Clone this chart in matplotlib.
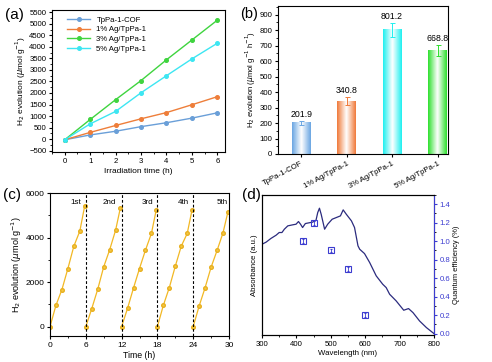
import numpy as np
import matplotlib
matplotlib.use("Agg")
import matplotlib.pyplot as plt
from matplotlib.ticker import MultipleLocator, FormatStrFormatter
from matplotlib.colors import LinearSegmentedColormap

# ---------------- data ----------------
# (a)
time_a = [0, 1, 2, 3, 4, 5, 6]
series_names = ["TpPa-1-COF", "1% Ag/TpPa-1", "3% Ag/TpPa-1", "5% Ag/TpPa-1"]
h2_tppa = [-30, 180, 340, 540, 710, 910, 1140]
h2_1pct = [-30, 290, 590, 880, 1150, 1490, 1840]
h2_3pct = [-30, 850, 1710, 2540, 3440, 4300, 5160]
h2_5pct = [-30, 660, 1200, 2010, 2750, 3480, 4160]
colors_a = ["#6a9fd8", "#ee7e3a", "#3fd43f", "#3de6f2"]

# (b)
bar_labels = ["TpPa-1-COF", "1% Ag/TpPa-1", "3% Ag/TpPa-1", "5% Ag/TpPa-1"]
bar_values = [201.9, 340.8, 801.2, 668.8]
bar_errors = [12, 25, 45, 35]
bar_colors = ["#6aa6e2", "#f07a3a", "#1ff0f0", "#2fe02f"]

# (c)
cycle_offsets = [0, 1, 2, 3, 4, 5, 5.8]
cycle_starts = [0, 6, 12, 18, 24]
cycle_values = [
    [0, 960, 1665, 2610, 3615, 4290, 5400],
    [0, 810, 1680, 2685, 3450, 4335, 5340],
    [0, 825, 1740, 2610, 3435, 4185, 5235],
    [0, 960, 1755, 2715, 3615, 4185, 5235],
    [0, 930, 1755, 2670, 3420, 4215, 5130],
]
cycle_names = ["1st", "2nd", "3rd", "4th", "5th"]
cycle_label_x = [4.4, 10.0, 16.3, 22.3, 28.8]

# (d)
wl = [300, 312, 326, 341, 350, 358, 365, 375, 389, 399, 406, 412, 418, 426,
      438, 447, 457, 462, 467, 472, 482, 491, 504, 516, 528, 536, 545, 560,
      569, 579, 584, 598, 613, 632, 651, 661, 671, 690, 712, 726, 739, 758,
      778, 800]
absorb = [0.967, 0.99, 1.03, 1.065, 1.094, 1.094, 1.13, 1.166, 1.177, 1.184,
          1.213, 1.184, 1.148, 1.191, 1.2, 1.206, 1.227, 1.31, 1.357, 1.292,
          1.13, 1.184, 1.238, 1.256, 1.274, 1.339, 1.292, 1.22, 1.148, 0.95,
          0.913, 0.866, 0.769, 0.625, 0.534, 0.498, 0.426, 0.354, 0.253,
          0.271, 0.227, 0.137, 0.065, 0.0]
qe_wl = [420, 450, 500, 550, 600]
qe_val = [1.0, 1.2, 0.9, 0.7, 0.2]
qe_err = [0.02, 0.02, 0.02, 0.02, 0.02]

# ---------------- figure ----------------
plt.rcParams["font.family"] = ["Liberation Sans", "DejaVu Sans"]
plt.rcParams["font.size"] = 5.5
plt.rcParams["axes.linewidth"] = 0.8
plt.rcParams["xtick.major.size"] = 2.5
plt.rcParams["ytick.major.size"] = 2.5
plt.rcParams["xtick.minor.size"] = 1.4
plt.rcParams["ytick.minor.size"] = 1.4
plt.rcParams["xtick.major.pad"] = 2
plt.rcParams["ytick.major.pad"] = 1.5

TICK = 5.6
W, H = 492, 362
fig = plt.figure(figsize=(W / 100, H / 100), dpi=100)


def box(l, t, r, b):
    return [l / W, 1 - b / H, (r - l) / W, (b - t) / H]


# ---- (a)
ax = fig.add_axes(box(52, 10, 225, 152))
for name, vals, c in zip(series_names, [h2_tppa, h2_1pct, h2_3pct, h2_5pct], colors_a):
    ax.plot(time_a, vals, "-o", color=c, lw=1.0, ms=2.6, mfc=c, mec=c, label=name)
ax.set_xlim(-0.5, 6.3)
ax.set_ylim(-560, 5600)
ax.xaxis.set_major_locator(MultipleLocator(1))
ax.xaxis.set_minor_locator(MultipleLocator(0.5))
ax.yaxis.set_major_locator(MultipleLocator(500))
ax.yaxis.set_minor_locator(MultipleLocator(250))
ax.set_xlabel("Irradiation time (h)", fontsize=6, labelpad=2)
ax.set_ylabel(r"H$_2$ evolution ($\mu$mol g$^{-1}$)", fontsize=6, labelpad=1)
ax.legend(loc="upper left", frameon=False, fontsize=5.6, handlelength=3.0,
          borderaxespad=0.4, labelspacing=0.3, bbox_to_anchor=(0.05, 1.0))
ax.tick_params(labelsize=TICK)

# ---- (b)
ax = fig.add_axes(box(278, 6, 448, 154))
xpos = np.arange(1, len(bar_values) + 1)
bw = 0.41
for x, v, e, c in zip(xpos, bar_values, bar_errors, bar_colors):
    cmap = LinearSegmentedColormap.from_list("g", [c, "#ffffff", c])
    grad = np.linspace(0, 1, 64)[None, :]
    ax.imshow(grad, cmap=cmap, extent=[x - bw / 2, x + bw / 2, 0, v],
              aspect="auto", zorder=2, interpolation="bilinear")
    ax.errorbar(x, v, yerr=e, color=c, capsize=1.8, lw=0.7, capthick=0.7, zorder=3)
    ax.text(x, v + e + 12, f"{v:.1f}", ha="center", va="bottom", fontsize=6.3)
ax.set_xlim(0.49, 4.23)
ax.set_ylim(0, 955)
ax.set_xticks(xpos)
ax.set_xticklabels(bar_labels, rotation=28, ha="right", rotation_mode="anchor", fontsize=TICK)
ax.yaxis.set_major_locator(MultipleLocator(100))
ax.yaxis.set_minor_locator(MultipleLocator(50))
ax.set_ylabel(r"H$_2$ evolution ($\mu$mol g$^{-1}$ h$^{-1}$)", fontsize=5.5, labelpad=1)
ax.tick_params(labelsize=TICK)

# ---- (c)
ax = fig.add_axes(box(50, 193, 229, 336))
yc = "#f2b824"
for start, vals in zip(cycle_starts, cycle_values):
    t = [start + o for o in cycle_offsets]
    ax.plot(t, vals, "-o", color=yc, lw=0.9, ms=2.6, mfc="#f5c842", mec="#e8b020")
for xv in [6, 12, 18, 24]:
    ax.axvline(xv, color="black", ls=(0, (2.5, 1.8)), lw=0.8)
for lab, lx in zip(cycle_names, cycle_label_x):
    ax.text(lx, 5580, lab, ha="center", va="center", fontsize=5.8)
ax.set_xlim(0, 30)
ax.set_ylim(-420, 6000)
ax.set_xticks([0, 6, 12, 18, 24, 30])
ax.xaxis.set_minor_locator(MultipleLocator(3))
ax.yaxis.set_major_locator(MultipleLocator(2000))
ax.yaxis.set_minor_locator(MultipleLocator(1000))
ax.set_xlabel("Time (h)", fontsize=6.3, labelpad=1)
ax.set_ylabel(r"H$_2$ evolution ($\mu$mol g$^{-1}$)", fontsize=6.5, labelpad=1)
ax.tick_params(labelsize=6)

# ---- (d)
ax = fig.add_axes(box(262, 195, 434, 335))
ax.plot(wl, absorb, color="#2b2b7e", lw=0.9)
ax.set_xlim(300, 800)
ax.set_ylim(-0.015, 1.5)
ax.xaxis.set_major_locator(MultipleLocator(100))
ax.xaxis.set_minor_locator(MultipleLocator(50))
ax.set_yticks([])
ax.set_xlabel("Wavelength (nm)", fontsize=5.6, labelpad=1.5)
ax.set_ylabel("Absorbance (a.u.)", fontsize=5.6, labelpad=3)
ax.tick_params(labelsize=TICK)
ax2 = ax.twinx()
qc = "#3c3cd0"
ax2.errorbar(qe_wl, qe_val, yerr=qe_err, fmt="s", ms=5, mfc="none", mec=qc,
             mew=0.8, ecolor=qc, elinewidth=0.6, capsize=1.0)
ax2.set_ylim(-0.015, 1.5)
ax2.yaxis.set_major_locator(MultipleLocator(0.2))
ax2.yaxis.set_minor_locator(MultipleLocator(0.1))
ax2.yaxis.set_major_formatter(FormatStrFormatter("%.1f"))
ax2.tick_params(axis="y", colors=qc, labelsize=TICK)
ax2.spines["right"].set_color(qc)
ax2.set_ylabel("Quantum efficiency (%)", fontsize=5.4, labelpad=2)

# panel labels
fig.text(5 / W, 1 - 15 / H, "(a)", fontsize=11, va="center", ha="left")
fig.text(240 / W, 1 - 14 / H, "(b)", fontsize=10.5, va="center", ha="left")
fig.text(3 / W, 1 - 195 / H, "(c)", fontsize=11, va="center", ha="left")
fig.text(242 / W, 1 - 195 / H, "(d)", fontsize=11, va="center", ha="left")

fig.savefig("out.png", dpi=100)
